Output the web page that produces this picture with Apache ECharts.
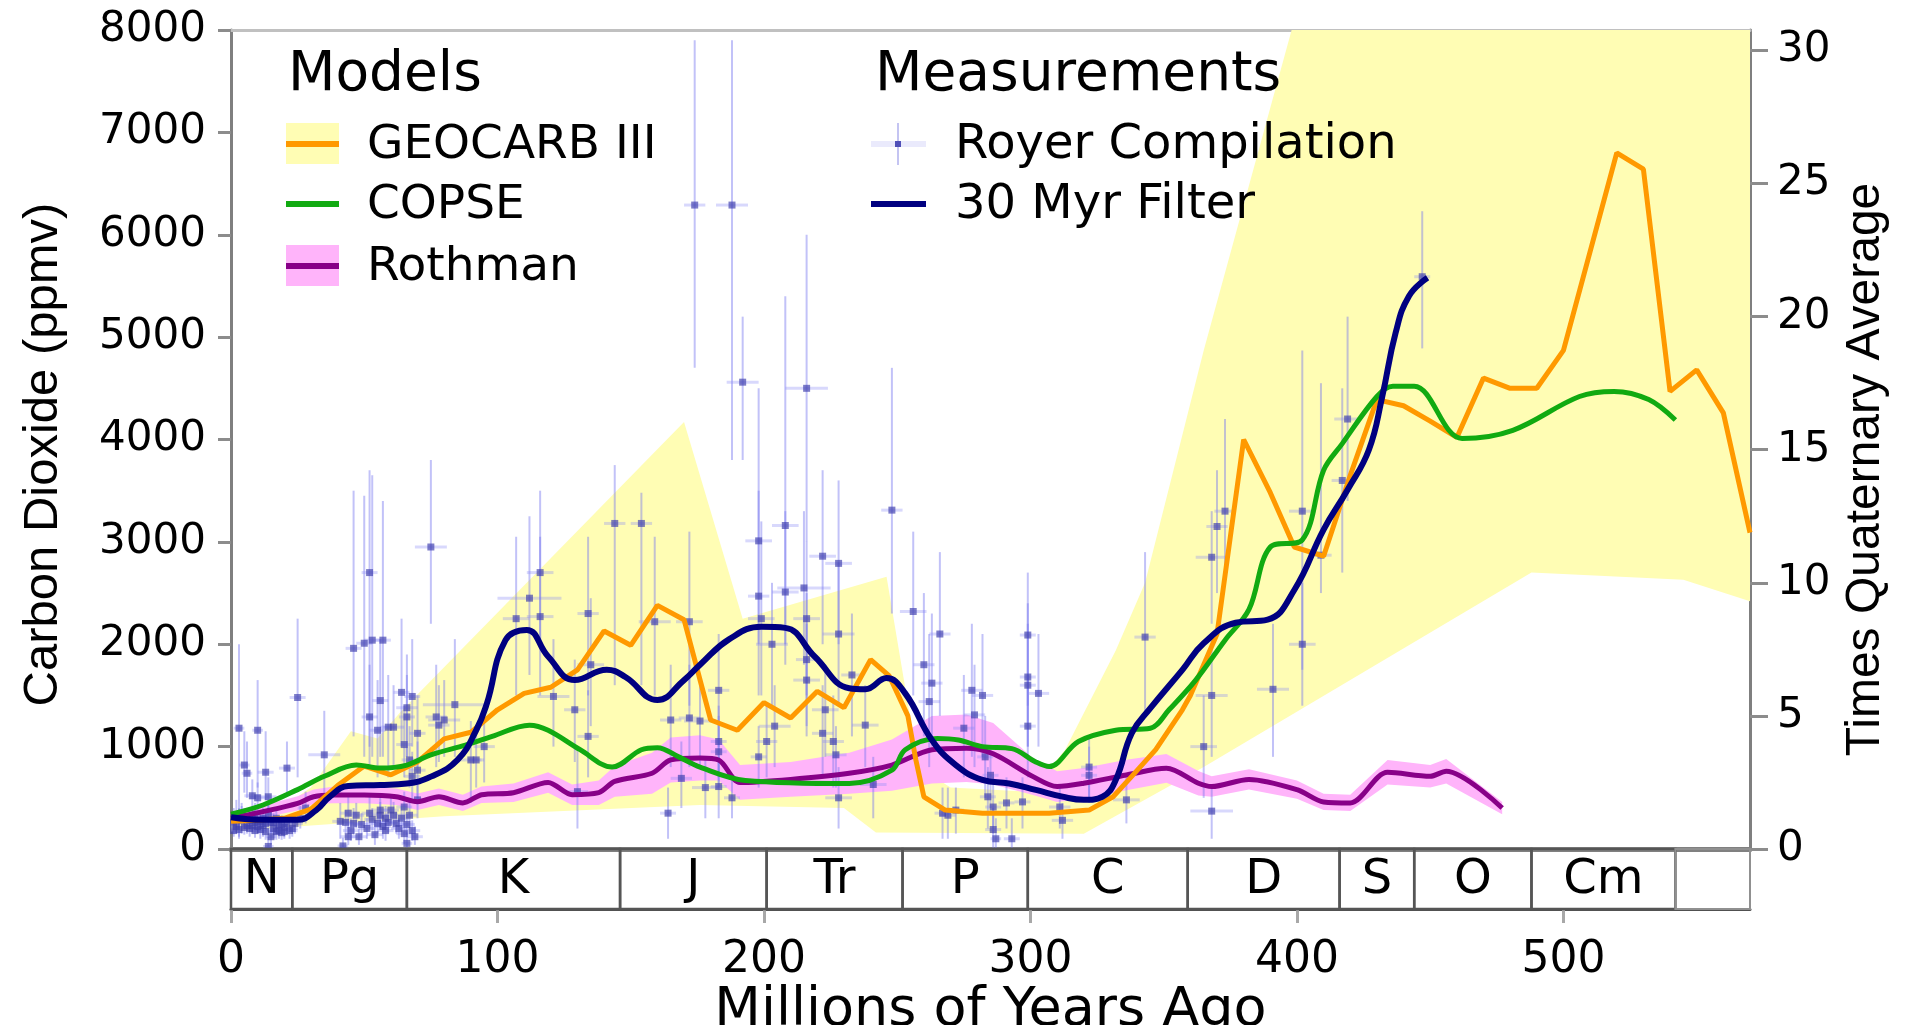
<!DOCTYPE html>
<html><head><meta charset="utf-8">
<script src="https://cdn.jsdelivr.net/npm/echarts@6/dist/echarts.min.js"></script>
<style>html,body{margin:0;padding:0;background:#fff;}#main{width:1909px;height:1025px;}</style>
</head><body><div id="main"></div>
<script>
// ---------------- data (Myr ago, ppmv) ----------------
const xTicks = [0, 100, 200, 300, 400, 500];
const co2Ticks = [0, 1000, 2000, 3000, 4000, 5000, 6000, 7000, 8000];
const ratioTicks = [0, 5, 10, 15, 20, 25, 30];
const quaternaryAvg = 260; // ppmv per "times Quaternary average"

const periods = [[0,23,'N'],[23,66,'Pg'],[66,146,'K'],[146,201,'J'],[201,252,'Tr'],[252,299,'P'],
  [299,359,'C'],[359,416,'D'],[416,444,'S'],[444,488,'O'],[488,542,'Cm'],[542,570,'']];

const geocarb = [[0,270],[10,280],[20,300],[30,390],[40,620],[50,810],[60,725],[70,850],[80,1075],[90,1140],
  [100,1360],[110,1520],[120,1580],[130,1750],[140,2130],[150,1990],[160,2380],[170,2240],[180,1260],[190,1160],
  [200,1430],[210,1280],[220,1540],[230,1380],[240,1850],[247,1690],[254,1300],[257,870],[260,510],[268,380],
  [282,350],[307,350],[322,380],[331,510],[338,710],[347,970],[357,1360],[360,1500],[370,2100],[380,4000],
  [390,3480],[399,2950],[410,2860],[420,3650],[430,4390],[440,4330],[450,4180],[460,4020],[470,4600],[480,4500],
  [490,4500],[500,4870],[520,6800],[530,6640],[540,4470],[550,4680],[560,4260],[570,3090]];

const geocarbUpper = [[0,330],[20,420],[30,600],[45,1150],[55,1080],[64,1350],[170,4170],[192,2250],[246,2660],
  [258,800],[270,600],[300,560],[313,970],[332,1940],[343,2600],[365,4870],[398,8000],[570,8000]];
const geocarbLower = [[0,170],[30,230],[80,320],[176,430],[230,400],[242,160],[320,150],[365,800],[488,2700],
  [545,2630],[570,2420]];

const copse = [[0,340],[12,430],[25,580],[35,710],[47,820],[56,790],[66,820],[75,920],[88,1015],[98,1100],
  [112,1210],[119,1160],[131,970],[143,800],[154,970],[160,990],[168,900],[176,800],[193,670],[232,640],
  [248,770],[253,970],[265,1080],[273,1065],[282,1000],[293,980],[302,850],[307,805],[318,1050],[332,1160],
  [345,1180],[352,1360],[362,1650],[373,2040],[382,2340],[390,2950],[402,3020],[410,3700],[417,3960],
  [430,4420],[436,4520],[444,4520],[462,4010],[481,4090],[506,4420],[519,4470],[532,4390],[542,4190]];

// [age, mid, half-width]
const rothman = [[0,300,60],[12,365,60],[25,446,70],[31,510,70],[38,527,80],[50,527,80],[62,511,80],[70,462,80],
  [78,511,80],[87,450,80],[94,530,80],[106,550,90],[119,650,100],[128,530,100],[138,550,120],[144,660,150],
  [158,740,200],[165,870,220],[176,890,220],[183,870,200],[191,650,170],[210,680,170],[232,740,200],[248,820,250],
  [263,970,330],[276,985,330],[286,930,300],[301,707,180],[310,610,150],[320,642,150],[336,723,150],[351,788,140],
  [363,642,120],[368,610,100],[382,680,100],[400,580,90],[410,460,80],[420,450,80],[434,750,120],[450,710,110],
  [456,760,120],[477,400,60]];

const filter30 = [[0,310],[12,285],[25,285],[32,380],[37,510],[44,615],[56,625],[66,640],[75,707],[85,870],
  [92,1160],[96,1420],[103,2040],[111,2140],[119,1880],[129,1650],[141,1750],[148,1680],[160,1455],[170,1650],
  [176,1800],[187,2050],[199,2170],[208,2160],[219,1880],[232,1570],[238,1560],[246,1670],[253,1520],[263,1065],
  [272,820],[282,675],[292,640],[302,577],[312,511],[320,480],[327,511],[332,674],[338,1130],[345,1375],
  [357,1750],[365,2010],[377,2210],[389,2240],[399,2530],[410,3120],[419,3510],[427,3900],[432,4420],
  [437,5040],[442,5400],[449,5580]];

// Royer compilation: [age, co2, ageErr, co2Low, co2High]
const royer = [
 [1,250,1,150,400],[2,320,1,200,480],[3,1180,2,100,2000],[4,280,2,150,420],[5,820,2,550,1150],[6,740,2,500,1050],
 [6,230,2,150,330],[7,200,2,120,300],[8,520,3,380,680],[9,260,2,170,360],[10,1160,2,600,1650],[10,500,3,380,650],
 [11,190,2,100,300],[12,230,3,120,330],[13,750,3,480,1150],[13,170,3,90,260],[14,510,3,350,700],[14,25,2,0,120],
 [15,120,2,40,200],[15,260,3,150,380],[16,200,3,100,300],[17,170,3,90,250],[18,230,3,140,320],[19,160,3,90,250],
 [20,210,3,120,300],[21,790,3,550,1050],[22,180,3,100,260],[24,250,3,150,350],[25,1480,3,700,2250],[26,300,3,200,420],
 [28,400,3,250,560],
 [1,180,1,120,260],[2,220,1,150,300],[3,300,1,200,400],[3,190,1,120,260],[4,350,1,250,450],[5,210,1,140,300],
 [5,300,2,200,400],[7,280,2,180,380],[8,230,2,150,320],[9,180,2,110,260],[9,340,2,250,450],[10,220,2,150,300],
 [11,270,2,180,360],[12,300,2,200,400],[13,250,2,170,330],[14,330,2,230,430],[16,260,2,180,350],[17,300,2,200,400],
 [18,180,2,100,260],[19,240,2,150,330],[20,170,2,100,250],[21,250,2,170,330],[23,200,2,120,280],
 [35,920,6,500,1350],[41,270,3,100,450],[42,30,2,0,110],[44,350,3,200,520],[44,120,3,40,220],
 [46,250,3,140,400],[46,1960,3,1100,3500],[48,120,3,40,200],[50,2010,3,900,3450],[52,2700,3,1000,3700],
 [52,1290,3,800,1800],[52,350,3,200,520],[53,2040,3,900,3650],[54,140,3,40,260],[55,1160,3,700,1650],
 [56,1450,3,900,2050],[56,330,3,200,460],[57,2040,3,900,3400],[57,220,3,100,320],[58,300,3,200,420],
 [59,1190,3,700,1700],[60,380,3,250,520],[61,1190,4,800,1600],[62,250,3,150,360],[64,1530,3,1000,2250],
 [65,1020,3,700,1400],[65,410,3,280,560],[65,150,3,50,260],[66,1380,4,900,1900],[66,1290,3,900,1700],
 [66,55,2,0,160],[67,870,3,600,1200],[68,1490,3,1000,2050],[68,710,3,480,950],[69,120,3,40,220],
 [70,1130,3,800,1500],[70,480,3,300,660],[70,770,3,500,1050],
 [43,260,3,150,380],[45,180,3,80,300],[47,330,3,200,450],[49,240,3,140,350],[51,200,3,100,300],[53,290,3,180,400],
 [55,250,3,150,350],[56,380,3,250,500],[58,180,3,80,280],[59,260,3,160,360],[61,330,3,200,460],[63,200,3,100,300],
 [64,300,3,180,420],[66,240,3,140,340],[67,330,3,200,460],[68,180,3,80,280],
 [75,2950,6,2200,3800],[77,1290,4,800,1800],[78,1210,4,850,1600],[80,1260,6,900,1650],[84,1410,12,900,2050],
 [90,870,4,450,1250],[92,870,3,600,1150],[95,1000,4,650,1350],[107,2250,5,1500,3050],[112,2450,12,1700,3250],
 [116,2700,5,2000,3500],[116,2270,5,1500,3050],[121,1490,6,1000,2050],[129,1360,4,850,1850],[130,560,4,200,1000],
 [134,2300,4,1500,3050],[135,1800,5,1200,2450],[134,1100,4,700,1550],[144,3180,4,1600,3750],[154,3180,4,1600,3480],
 [159,2220,6,1500,3050],[164,350,3,100,600],[165,1260,4,800,1800],[169,690,4,400,1050],[172,2220,5,1400,3100],
 [172,1280,4,800,1800],[174,6290,4,4700,7900],[176,1250,6,800,1700],[178,600,5,300,900],
 [183,1550,4,1000,2100],[183,1050,3,700,1400],[183,950,3,600,1300],[183,610,3,300,900],[188,6290,6,3800,7900],
 [188,500,3,300,700],[192,4560,6,3800,5200],[198,3010,5,2000,4500],[198,2470,4,1500,3500],[198,900,3,600,1200],
 [199,2250,5,1500,3200],[201,1050,4,700,1400],[203,2000,6,1400,2600],[204,1200,6,800,1600],[208,3160,5,2000,5400],
 [208,2510,5,1800,3300],[215,2550,10,1800,3300],[216,4500,8,3000,6000],[216,2250,5,1500,3000],[216,1850,4,1200,2500],
 [216,1650,5,1100,2200],[222,2860,5,2000,3700],[222,1130,4,700,1600],[223,1360,5,900,1800],[226,1050,4,600,1500],
 [227,920,4,600,1200],[228,2790,5,2000,3600],[228,2100,6,1400,2800],[228,500,5,200,800],[233,1700,4,1100,2300],
 [238,1210,5,800,1600],[241,630,5,300,900],[248,3310,4,2300,4700],[256,2320,5,1500,3100],[260,1800,4,1100,2500],
 [262,1440,4,800,2100],[263,1620,4,1000,2300],[266,2100,4,1300,2900],[267,350,3,100,600],[269,330,3,100,600],
 [272,380,3,150,600],[275,1180,4,700,1700],[278,1550,4,900,2200],[279,1310,4,800,1800],[282,1500,4,900,2100],
 [283,900,3,500,1300],[284,510,3,200,800],[285,720,3,400,1000],[286,410,3,150,700],[286,190,3,0,400],
 [287,100,2,0,300],[291,450,3,200,700],[293,100,3,0,300],[297,460,3,200,700],[299,2090,3,1400,2700],
 [299,1680,3,1000,2400],[299,1600,3,1000,2200],[299,1200,3,700,1700],[303,1520,4,1000,2100],
 [311,410,4,200,600],[312,280,4,100,450],[322,800,3,500,1100],[322,720,3,450,1000],[336,480,5,250,700],
 [343,2070,4,1300,2900],[365,1000,5,500,1500],[368,1500,6,900,2100],[368,370,8,100,600],[368,2850,6,2200,3300],
 [370,3150,4,2500,3700],[373,3300,4,2600,4200],[391,1560,6,900,2200],[402,3300,5,1750,4870],[402,2000,5,1400,2600],
 [409,2870,4,2500,4550],[417,3600,4,2700,4500],[419,4200,5,3400,5200],[447,5590,3,4890,6230]
];

// ---------------- chart ----------------
const chart = echarts.init(document.getElementById('main'), null, {renderer: 'canvas'});
const FONT = 'DejaVu Sans';
const plain = v => String(Math.round(v));

function bandPolygon(upper, lower, fill) {
  return function (params, api) {
    if (params.dataIndex !== 0) return null;
    const pts = upper.map(p => api.coord(p)).concat(lower.slice().reverse().map(p => api.coord(p)));
    return {type: 'polygon', shape: {points: pts}, style: {fill: fill}};
  };
}
const rothUpper = rothman.map(r => [r[0], r[1] + r[2]]);
const rothLower = rothman.map(r => [r[0], Math.max(0, r[1] - r[2])]);

const legendGraphics = [
  {type:'text', x:288, y:76, style:{text:'Models', font:'55px "DejaVu Sans"', fill:'#000', verticalAlign:'middle'}},
  {type:'rect', shape:{x:286, y:123, width:53, height:41}, style:{fill:'#fffdb4'}},
  {type:'rect', shape:{x:286, y:141, width:53, height:6}, style:{fill:'#ff9900'}},
  {type:'text', x:367, y:146, style:{text:'GEOCARB III', font:'47px "DejaVu Sans"', fill:'#000', verticalAlign:'middle'}},
  {type:'rect', shape:{x:286, y:201, width:53, height:6}, style:{fill:'#11aa11'}},
  {type:'text', x:367, y:206, style:{text:'COPSE', font:'47px "DejaVu Sans"', fill:'#000', verticalAlign:'middle'}},
  {type:'rect', shape:{x:286, y:245, width:53, height:41}, style:{fill:'#ffb4fa'}},
  {type:'rect', shape:{x:286, y:263, width:53, height:6}, style:{fill:'#880088'}},
  {type:'text', x:367, y:268, style:{text:'Rothman', font:'47px "DejaVu Sans"', fill:'#000', verticalAlign:'middle'}},
  {type:'text', x:875, y:76, style:{text:'Measurements', font:'55px "DejaVu Sans"', fill:'#000', verticalAlign:'middle'}},
  {type:'rect', shape:{x:871, y:141, width:55, height:6}, style:{fill:'#eaeafc'}},
  {type:'rect', shape:{x:897, y:123, width:2, height:42}, style:{fill:'#c4c4f2'}},
  {type:'rect', shape:{x:895, y:141, width:6, height:6}, style:{fill:'#5050b8'}},
  {type:'text', x:955, y:146, style:{text:'Royer Compilation', font:'48px "DejaVu Sans"', fill:'#000', verticalAlign:'middle'}},
  {type:'rect', shape:{x:871, y:201, width:55, height:6}, style:{fill:'#000080'}},
  {type:'text', x:955, y:206, style:{text:'30 Myr Filter', font:'48px "DejaVu Sans"', fill:'#000', verticalAlign:'middle'}}
].map(g => Object.assign({z: 100, silent: true}, g));

const option = {
  animation: false,
  backgroundColor: '#ffffff',
  grid: [
    {left: 231, top: 30, width: 1519, height: 819, containLabel: false, outerBoundsMode: 'none'},
    {left: 231, top: 849, width: 1519, height: 60, containLabel: false, outerBoundsMode: 'none'}
  ],
  xAxis: [
    {gridIndex:0, type:'value', min:0, max:570, position:'bottom',
     axisLine:{show:true, onZero:false, lineStyle:{color:'#808080', width:5}},
     axisTick:{show:false}, axisLabel:{show:false}, splitLine:{show:false}},
    {gridIndex:0, type:'value', min:0, max:570, position:'top',
     axisLine:{show:true, onZero:false, lineStyle:{color:'#c0c0c0', width:3}},
     axisTick:{show:false}, axisLabel:{show:false}, splitLine:{show:false}},
    {gridIndex:1, type:'value', min:0, max:570, position:'bottom',
     axisLine:{show:true, onZero:false, lineStyle:{color:'#505050', width:3}},
     axisTick:{show:true, inside:false, length:14, customValues:xTicks, lineStyle:{color:'#a8a8a8', width:3}},
     axisLabel:{margin:30, customValues:xTicks, formatter:plain, fontSize:44, fontFamily:FONT, color:'#000'},
     splitLine:{show:false},
     name:'Millions of Years Ago', nameLocation:'middle', nameGap:72,
     nameTextStyle:{fontSize:54, fontFamily:FONT, color:'#000'}}
  ],
  yAxis: [
    {gridIndex:0, type:'value', min:0, max:8000, interval:1000, position:'left',
     axisLine:{show:true, onZero:false, lineStyle:{color:'#7f7f7f', width:3}},
     axisTick:{show:true, length:13, customValues:co2Ticks, lineStyle:{color:'#8c8c8c', width:3}},
     axisLabel:{margin:25, customValues:co2Ticks, formatter:plain, fontSize:42, fontFamily:FONT, color:'#000'},
     splitLine:{show:false},
     name:'Carbon Dioxide (ppmv)', nameLocation:'middle', nameRotate:90, nameGap:163,
     nameTextStyle:{fontSize:49, fontFamily:'Liberation Sans', color:'#000', padding:[0,0,0,-30]}},
    {gridIndex:0, type:'value', min:0, max:8000 / quaternaryAvg, position:'right',
     axisLine:{show:true, onZero:false, lineStyle:{color:'#7f7f7f', width:3}},
     axisTick:{show:true, length:18, customValues:ratioTicks, lineStyle:{color:'#8c8c8c', width:3}},
     axisLabel:{margin:27, customValues:ratioTicks, formatter:plain, fontSize:42, fontFamily:FONT, color:'#000'},
     splitLine:{show:false},
     name:'Times Quaternary Average', nameLocation:'middle', nameRotate:90, nameGap:90,
     nameTextStyle:{fontSize:48, fontFamily:'Liberation Sans', color:'#000', padding:[0,0,0,-60]}},
    {gridIndex:1, type:'value', min:0, max:1, show:false}
  ],
  graphic: legendGraphics,
  series: [
    {type:'custom', name:'GEOCARB III range', xAxisIndex:0, yAxisIndex:0, clip:true, silent:true,
     data:[[0,0]], renderItem: bandPolygon(geocarbUpper, geocarbLower, '#fffdb4'), z:1},
    {type:'custom', name:'Rothman range', xAxisIndex:0, yAxisIndex:0, clip:true, silent:true,
     data:[[0,0]], renderItem: bandPolygon(rothUpper, rothLower, '#ffb4fa'), z:2},
    {type:'custom', name:'Royer error bars', xAxisIndex:0, yAxisIndex:0, clip:true, silent:true,
     data: royer, encode:{x:0, y:1}, z:3,
     renderItem: function (params, api) {
       const x = api.value(0), y = api.value(1), e = api.value(2), lo = api.value(3), hi = api.value(4);
       const pT = api.coord([x, hi]), pB = api.coord([x, lo]);
       const pL = api.coord([x - e, y]), pR = api.coord([x + e, y]);
       return {type:'group', children:[
         {type:'line', shape:{x1:pL[0], y1:pL[1], x2:pR[0], y2:pR[1]}, style:{stroke:'rgba(140,140,245,0.34)', lineWidth:3}},
         {type:'line', shape:{x1:pT[0], y1:pT[1], x2:pB[0], y2:pB[1]}, style:{stroke:'rgba(120,120,240,0.45)', lineWidth:2}}
       ]};
     }},
    {type:'scatter', name:'Royer Compilation', xAxisIndex:0, yAxisIndex:0, z:4,
     data: royer.map(r => [r[0], r[1]]), symbol:'rect', symbolSize:7,
     itemStyle:{color:'rgba(65,65,175,0.85)'}},
    {type:'line', name:'Rothman', xAxisIndex:0, yAxisIndex:0, z:5, data: rothman.map(r => [r[0], r[1]]),
     showSymbol:false, smooth:0.3, lineStyle:{color:'#880088', width:5}},
    {type:'line', name:'GEOCARB III', xAxisIndex:0, yAxisIndex:0, z:6, data: geocarb,
     showSymbol:false, lineStyle:{color:'#ff9900', width:5}},
    {type:'line', name:'COPSE', xAxisIndex:0, yAxisIndex:0, z:7, data: copse,
     showSymbol:false, smooth:0.35, lineStyle:{color:'#11aa11', width:5}},
    {type:'line', name:'30 Myr Filter', xAxisIndex:0, yAxisIndex:0, z:8, data: filter30,
     showSymbol:false, smooth:0.45, lineStyle:{color:'#000080', width:6}},
    {type:'custom', name:'Periods', xAxisIndex:2, yAxisIndex:2, z:9, silent:true,
     data: periods.map((p, i) => [p[0], p[1], i]),
     renderItem: function (params, api) {
       const p = periods[params.dataIndex];
       const a = api.coord([api.value(0), 1]);
       const b = api.coord([api.value(1), 0]);
       const last = p[2] === '';
       return {type:'group', children:[
         {type:'rect', shape:{x:a[0], y:a[1], width:b[0] - a[0], height:b[1] - a[1]},
          style:{fill:'none', stroke: last ? '#909090' : '#555555', lineWidth: last ? 2 : 2.5}},
         {type:'text', style:{text:p[2], x:(a[0] + b[0]) / 2, y:(a[1] + b[1]) / 2 + 2, align:'center', verticalAlign:'middle',
          font:'48px "DejaVu Sans"', fill:'#000'}}
       ]};
     }}
  ]
};
chart.setOption(option);
</script>
</body></html>
